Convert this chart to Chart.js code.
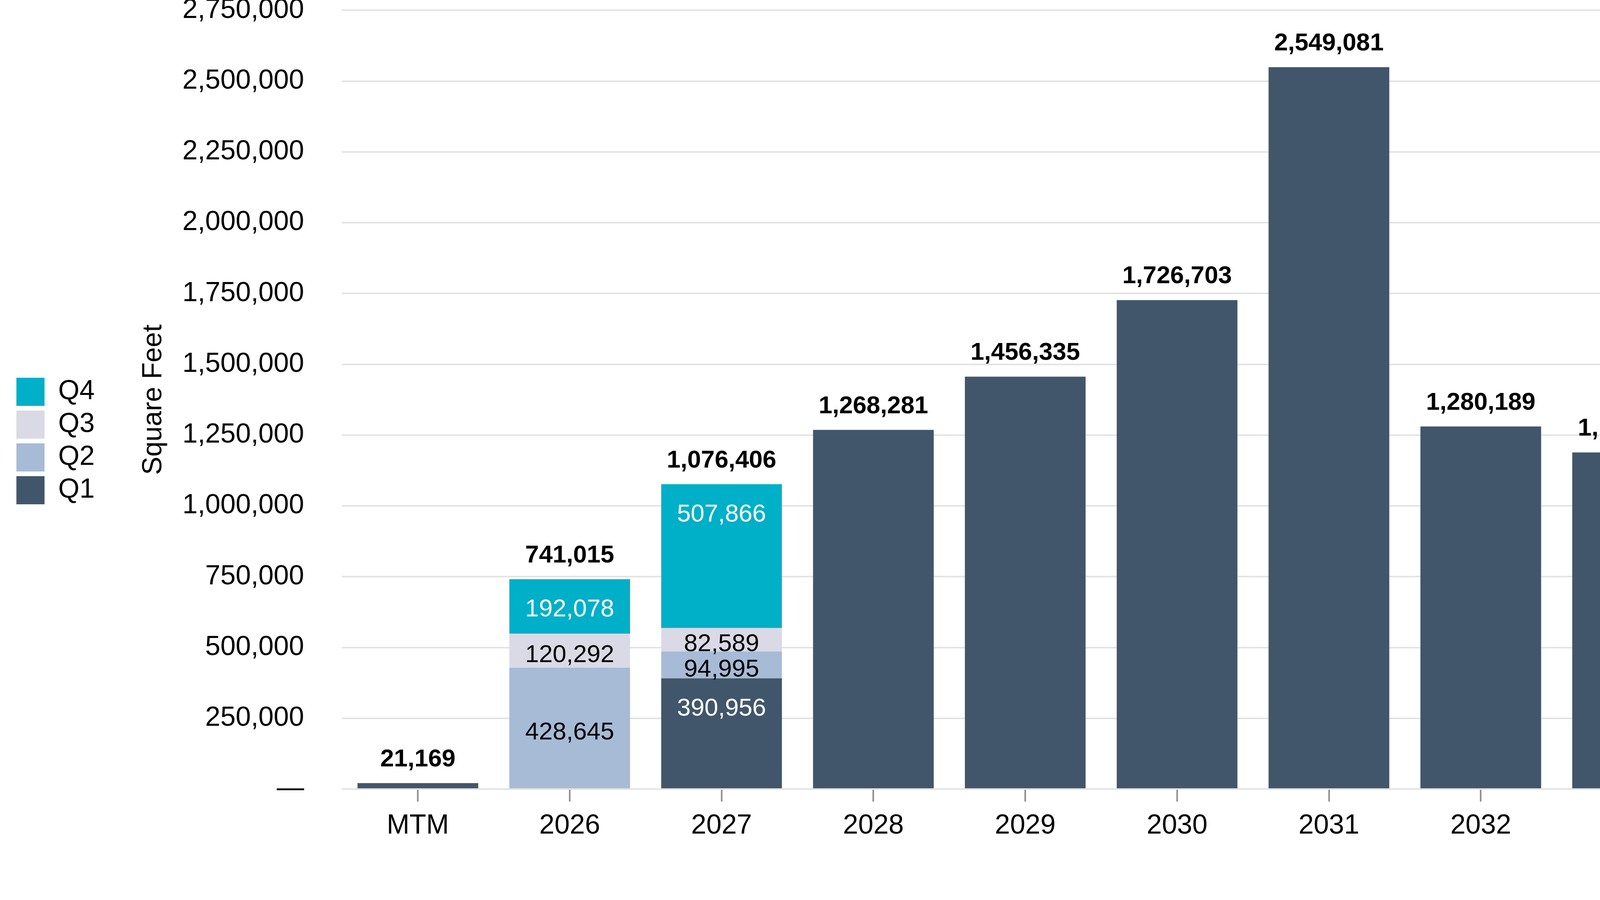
<!DOCTYPE html>
<html lang="en">
<head>
<meta charset="utf-8">
<title>Lease Expirations</title>
<script src="https://cdn.jsdelivr.net/npm/chart.js@4.4.1/dist/chart.umd.min.js"></script>
<style>
  html, body { margin: 0; padding: 0; background: #ffffff; }
  .chart-box { position: relative; width: 5550px; height: 2304px; }
</style>
</head>
<body>
<div class="chart-box">
  <canvas id="expirationsChart"></canvas>
</div>
<script>
const FONT_FAMILY = "'Liberation Sans', Arial, Helvetica, sans-serif";

const categories = ["MTM", "2026", "2027", "2028", "2029", "2030", "2031", "2032", "2033", "2034", "2035", ["2036 and", "beyond"]];

const q1Values = [21169, null, 390956, 1268281, 1456335, 1726703, 2549081, 1280189, 1188751, 683426, 637974, 549221];
const q2Values = [null, 428645, 94995, null, null, null, null, null, null, null, null, null];
const q3Values = [null, 120292, 82589, null, null, null, null, null, null, null, null, null];
const q4Values = [null, 192078, 507866, null, null, null, null, null, null, null, null, null];

const yTicks = [0, 250000, 500000, 750000, 1000000, 1250000, 1500000, 1750000, 2000000, 2250000, 2500000, 2750000];

let charts = {};

document.addEventListener("DOMContentLoaded", () => {
  renderExpirationsChart();
});

function allSeries() {
  return [q1Values, q2Values, q3Values, q4Values];
}

function totalFor(index) {
  return allSeries().reduce((sum, series) => sum + (series[index] || 0), 0);
}

function segmentCount(index) {
  return allSeries().filter(series => series[index] != null).length;
}

function formatNumber(value) {
  return Number(value).toLocaleString("en-US");
}

// labels inside the split bars + bold totals on top
const barLabels = {
  id: "barLabels",
  afterDatasetsDraw(chart) {
    const ctx = chart.ctx;
    const xScale = chart.scales.x;
    const yScale = chart.scales.y;

    ctx.save();
    ctx.textAlign = "center";
    ctx.font = `63px ${FONT_FAMILY}`;
    ctx.textBaseline = "middle";

    chart.data.datasets.forEach((dataset, i) => {
      const meta = chart.getDatasetMeta(i);
      meta.data.forEach((bar, index) => {
        const value = dataset.data[index];
        if (value == null || segmentCount(index) < 2) return;
        const y = dataset.labelAnchor === "top"
          ? bar.y + 78
          : (bar.y + bar.base) / 2 + 12;
        ctx.fillStyle = dataset.labelColor;
        ctx.fillText(formatNumber(value), bar.x, y);
      });
    });

    ctx.font = `bold 63px ${FONT_FAMILY}`;
    ctx.textBaseline = "alphabetic";
    ctx.fillStyle = "#000000";
    categories.forEach((category, index) => {
      const total = totalFor(index);
      ctx.fillText(formatNumber(total), xScale.getPixelForValue(index), yScale.getPixelForValue(total) - 43);
    });

    ctx.restore();
  }
};

function renderExpirationsChart() {
  const canvas = document.getElementById("expirationsChart");
  if (!canvas) return;

  charts.expirationsChart = new Chart(canvas, {
    type: "bar",
    data: {
      labels: categories,
      datasets: [
        { label: "Q1", data: q1Values, backgroundColor: "#41566b", labelColor: "#ffffff", labelAnchor: "top" },
        { label: "Q2", data: q2Values, backgroundColor: "#a7bbd6", labelColor: "#000000", labelAnchor: "center" },
        { label: "Q3", data: q3Values, backgroundColor: "#d9dae5", labelColor: "#000000", labelAnchor: "center" },
        { label: "Q4", data: q4Values, backgroundColor: "#00afc8", labelColor: "#ffffff", labelAnchor: "top" }
      ]
    },
    options: {
      responsive: true,
      maintainAspectRatio: false,
      devicePixelRatio: 1,
      animation: false,
      barPercentage: 0.795,
      categoryPercentage: 1,
      layout: {
        padding: { left: 30, right: 10, top: 0, bottom: 46 }
      },
      plugins: {
        tooltip: { enabled: false },
        legend: {
          position: "left",
          reverse: true,
          labels: {
            boxWidth: 72,
            boxHeight: 72,
            padding: 12,
            color: "#000000",
            font: { family: FONT_FAMILY, size: 70 }
          }
        }
      },
      scales: {
        x: {
          stacked: true,
          border: { display: false },
          grid: {
            display: true,
            drawOnChartArea: false,
            drawTicks: true,
            offset: false,
            tickLength: 32,
            tickWidth: 4,
            tickColor: "#8c8c8c"
          },
          ticks: {
            color: "#000000",
            padding: 22,
            maxRotation: 0,
            autoSkip: false,
            font: { family: FONT_FAMILY, size: 70, lineHeight: 1.157 }
          }
        },
        y: {
          stacked: true,
          min: 0,
          max: 2750000,
          border: { display: false },
          grid: {
            color: "#e3e3e3",
            lineWidth: 4,
            drawTicks: true,
            tickLength: 97,
            tickColor: "rgba(0,0,0,0)"
          },
          afterBuildTicks: axis => {
            axis.ticks = yTicks.map(value => ({ value }));
          },
          afterFit: axis => {
            axis.width = 623;
          },
          ticks: {
            color: "#000000",
            padding: 0,
            font: { family: FONT_FAMILY, size: 70, lineHeight: 0.75 },
            callback: value => value === 0 ? "\u2014" : formatNumber(value)
          },
          title: {
            display: true,
            text: "Square Feet",
            color: "#000000",
            padding: { top: 99, bottom: 0 },
            font: { family: FONT_FAMILY, size: 70 }
          }
        }
      }
    },
    plugins: [barLabels]
  });
}
</script>
</body>
</html>
